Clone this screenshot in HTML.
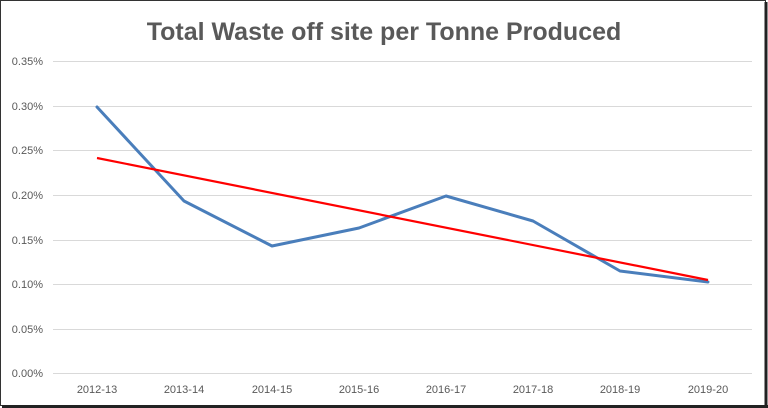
<!DOCTYPE html>
<html><head><style>
body{margin:0;background:#fff}
svg{display:block}
text{font-family:"Liberation Sans",sans-serif}
</style></head><body>
<svg width="768" height="408" viewBox="0 0 768 408">
<rect x="0" y="0" width="768" height="408" fill="#fff"/>
<rect x="0.5" y="0.5" width="765" height="405" fill="none" stroke="#333" stroke-width="1"/>
<line x1="766" y1="2" x2="766" y2="408" stroke="#222" stroke-width="3"/>
<line x1="2" y1="406.5" x2="768" y2="406.5" stroke="#222" stroke-width="3"/>
<text x="384" y="40" text-anchor="middle" font-size="25" font-weight="bold" fill="#595959">Total Waste off site per Tonne Produced</text>
<g stroke="#d9d9d9" stroke-width="1">
<line x1="53" x2="752" y1="61.5" y2="61.5"/>
<line x1="53" x2="752" y1="106.5" y2="106.5"/>
<line x1="53" x2="752" y1="150.5" y2="150.5"/>
<line x1="53" x2="752" y1="195.5" y2="195.5"/>
<line x1="53" x2="752" y1="240.5" y2="240.5"/>
<line x1="53" x2="752" y1="284.5" y2="284.5"/>
<line x1="53" x2="752" y1="329.5" y2="329.5"/>
<line x1="53" x2="752" y1="373.5" y2="373.5"/>
</g>
<g font-size="11" fill="#595959" text-anchor="end">
<text x="43" y="65">0.35%</text>
<text x="43" y="110">0.30%</text>
<text x="43" y="154">0.25%</text>
<text x="43" y="199">0.20%</text>
<text x="43" y="244">0.15%</text>
<text x="43" y="288">0.10%</text>
<text x="43" y="333">0.05%</text>
<text x="43" y="377">0.00%</text>
</g>
<g font-size="11" fill="#595959" text-anchor="middle">
<text x="97" y="393">2012-13</text>
<text x="184" y="393">2013-14</text>
<text x="272" y="393">2014-15</text>
<text x="359" y="393">2015-16</text>
<text x="446" y="393">2016-17</text>
<text x="533" y="393">2017-18</text>
<text x="620" y="393">2018-19</text>
<text x="708" y="393">2019-20</text>
</g>
<polyline fill="none" stroke="#4a7ebb" stroke-width="3" stroke-linejoin="round" stroke-linecap="round" points="97,107 184,201 272,246 359,228 446,196 533,221 620,271 708,282"/>
<line x1="97" y1="158" x2="708" y2="280" stroke="#ff0000" stroke-width="2.2"/>
</svg>
</body></html>
